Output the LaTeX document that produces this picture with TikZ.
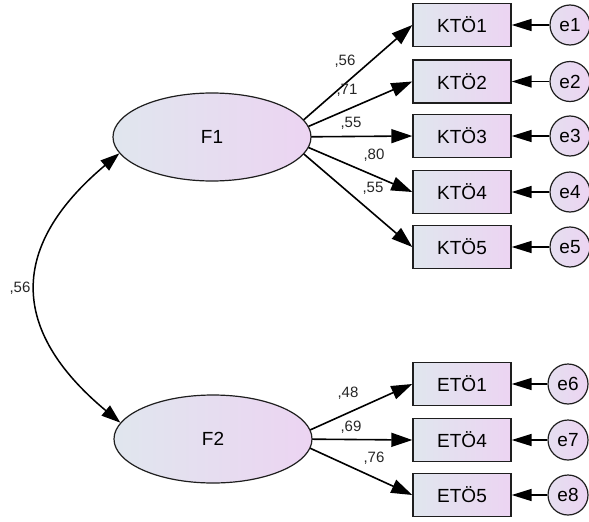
\documentclass[tikz,border=0pt]{standalone}
\usepackage{fontspec}
\setmainfont{Liberation Sans}
\usetikzlibrary{arrows.meta,shapes.geometric}
\definecolor{fillL}{RGB}{224,230,238}
\definecolor{fillR}{RGB}{236,212,242}
\definecolor{edge}{RGB}{30,30,30}
\tikzset{
  latent/.style={ellipse, draw=edge, line width=1.2pt, minimum width=198pt, minimum height=88pt,
    inner sep=0pt, left color=fillL, right color=fillR, font=\fontsize{19}{19}\selectfont},
  obsbox/.style={rectangle, draw=edge, line width=1.4pt, minimum width=98pt, minimum height=43pt,
    inner sep=0pt, left color=fillL, right color=fillR, font=\fontsize{19}{19}\selectfont},
  errc/.style={circle, draw=edge, line width=1.2pt, minimum size=40pt, inner sep=0pt,
    left color=fillL!60!fillR, right color=fillR, font=\fontsize{19}{19}\selectfont},
  lbl/.style={font=\fontsize{15}{15}\selectfont, inner sep=0pt, text=black!85},
  path/.style={line width=1.6pt, draw=black, -{Triangle[length=21pt,width=14pt]}},
  epath/.style={line width=1.6pt, draw=black, -{Triangle[length=20pt,width=12pt]}},
  cov/.style={line width=1.5pt, draw=black, {Triangle[length=19pt,width=13pt]}-{Triangle[length=19pt,width=13pt]}},
}
\begin{document}
\begin{tikzpicture}[x=1pt,y=-1pt]
\useasboundingbox (0,0) rectangle (589,522);
\node[obsbox] (K1) at (462,25) {KTÖ1};
\node[obsbox] (K2) at (462,81.5) {KTÖ2};
\node[obsbox] (K3) at (462,136) {KTÖ3};
\node[obsbox] (K4) at (462,192) {KTÖ4};
\node[obsbox] (K5) at (462,247) {KTÖ5};
\node[obsbox] (E1) at (462,384) {ETÖ1};
\node[obsbox] (E4) at (462,440) {ETÖ4};
\node[obsbox] (E5) at (462,495) {ETÖ5};
\node[errc] (e1) at (570,25) {e1};
\node[errc] (e2) at (570,81.5) {e2};
\node[errc] (e3) at (570,136) {e3};
\node[errc] (e4) at (570,192) {e4};
\node[errc] (e5) at (570,247) {e5};
\node[errc] (e6) at (568,384) {e6};
\node[errc] (e7) at (568,440) {e7};
\node[errc] (e8) at (568,495) {e8};
\coordinate (f1c) at (284,137);
\coordinate (f2c) at (290,439);
\foreach \b in {K1,K2,K3,K4,K5}
  \draw[path] (f1c) -- (\b.west);
\foreach \b in {E1,E4,E5}
  \draw[path] (f2c) -- (\b.west);
\foreach \a/\b in {e1/K1,e2/K2,e3/K3,e4/K4,e5/K5,e6/E1,e7/E4,e8/E5}
  \draw[epath] (\a) -- (\b.east);
\node[latent] (F1) at (212,137) {F1};
\node[latent] (F2) at (213,439) {F2};
\draw[cov] (F1.190) .. controls (9,246) and (9,330) .. (F2.170);
\node[lbl] (l1) at (345,61) {,56};
\node[lbl] (l2) at (347,90) {,71};
\node[lbl] (l3) at (351,123) {,55};
\node[lbl] (l4) at (374,155) {,80};
\node[lbl] (l5) at (373,188) {,55};
\node[lbl] (l6) at (348,393) {,48};
\node[lbl] (l7) at (351,427) {,69};
\node[lbl] (l8) at (374,458) {,76};
\node[lbl] (lc) at (20,288) {,56};
\end{tikzpicture}
\end{document}
